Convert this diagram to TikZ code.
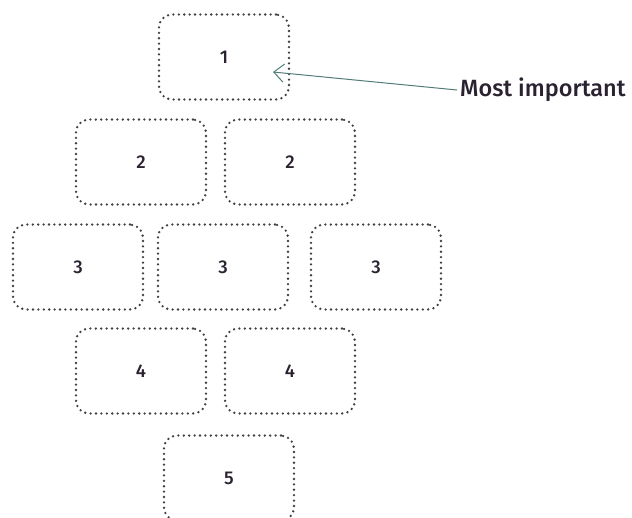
\documentclass[tikz,border=0pt]{standalone}
\usepackage{fontspec}
\setmainfont{Fira Sans}[UprightFont=* Medium]
\usetikzlibrary{arrows.meta}

\definecolor{dotgray}{HTML}{404040}
\definecolor{arrowteal}{HTML}{527C76}
\definecolor{textdark}{HTML}{2A2230}

\begin{document}
\begin{tikzpicture}[x=1pt, y=-1pt,
    rankbox/.style={draw=dotgray, line width=2.6pt, line cap=round,
      dash pattern=on 0pt off 5.4pt, rounded corners=13pt,
      minimum width=130pt, minimum height=85pt, inner sep=0pt,
      text=textdark, font=\fontsize{18.5}{22}\selectfont},
    note/.style={text=textdark, font=\fontsize{23.5}{27}\selectfont, inner sep=3pt}]

  % page size of the reference
  \useasboundingbox (0,0) rectangle (632,517);
  \clip (0,0) rectangle (632,517);

  % pyramid of boxes
  \node[rankbox] (r1) at (224,57) {1};

  \foreach \nm/\xpos/\ypos/\lbl in {r2a/141/162/2, r2b/290/162/2,
      r3a/78/267/3, r3b/223/267/3, r3c/376/267/3,
      r4a/141/371/4, r4b/290/371/4, r5/229/478/5} {
    \node[rankbox] (\nm) at (\xpos,\ypos) {\lbl};
  }

  % annotation
  \node[note, anchor=west] (imp) at (457,90) {Most important};
  \coordinate (tip) at (273,72);
  \draw[-{Straight Barb[length=10pt, width=18pt]}, arrowteal, line width=1pt]
    (imp.west) -- (tip);

\end{tikzpicture}
\end{document}
